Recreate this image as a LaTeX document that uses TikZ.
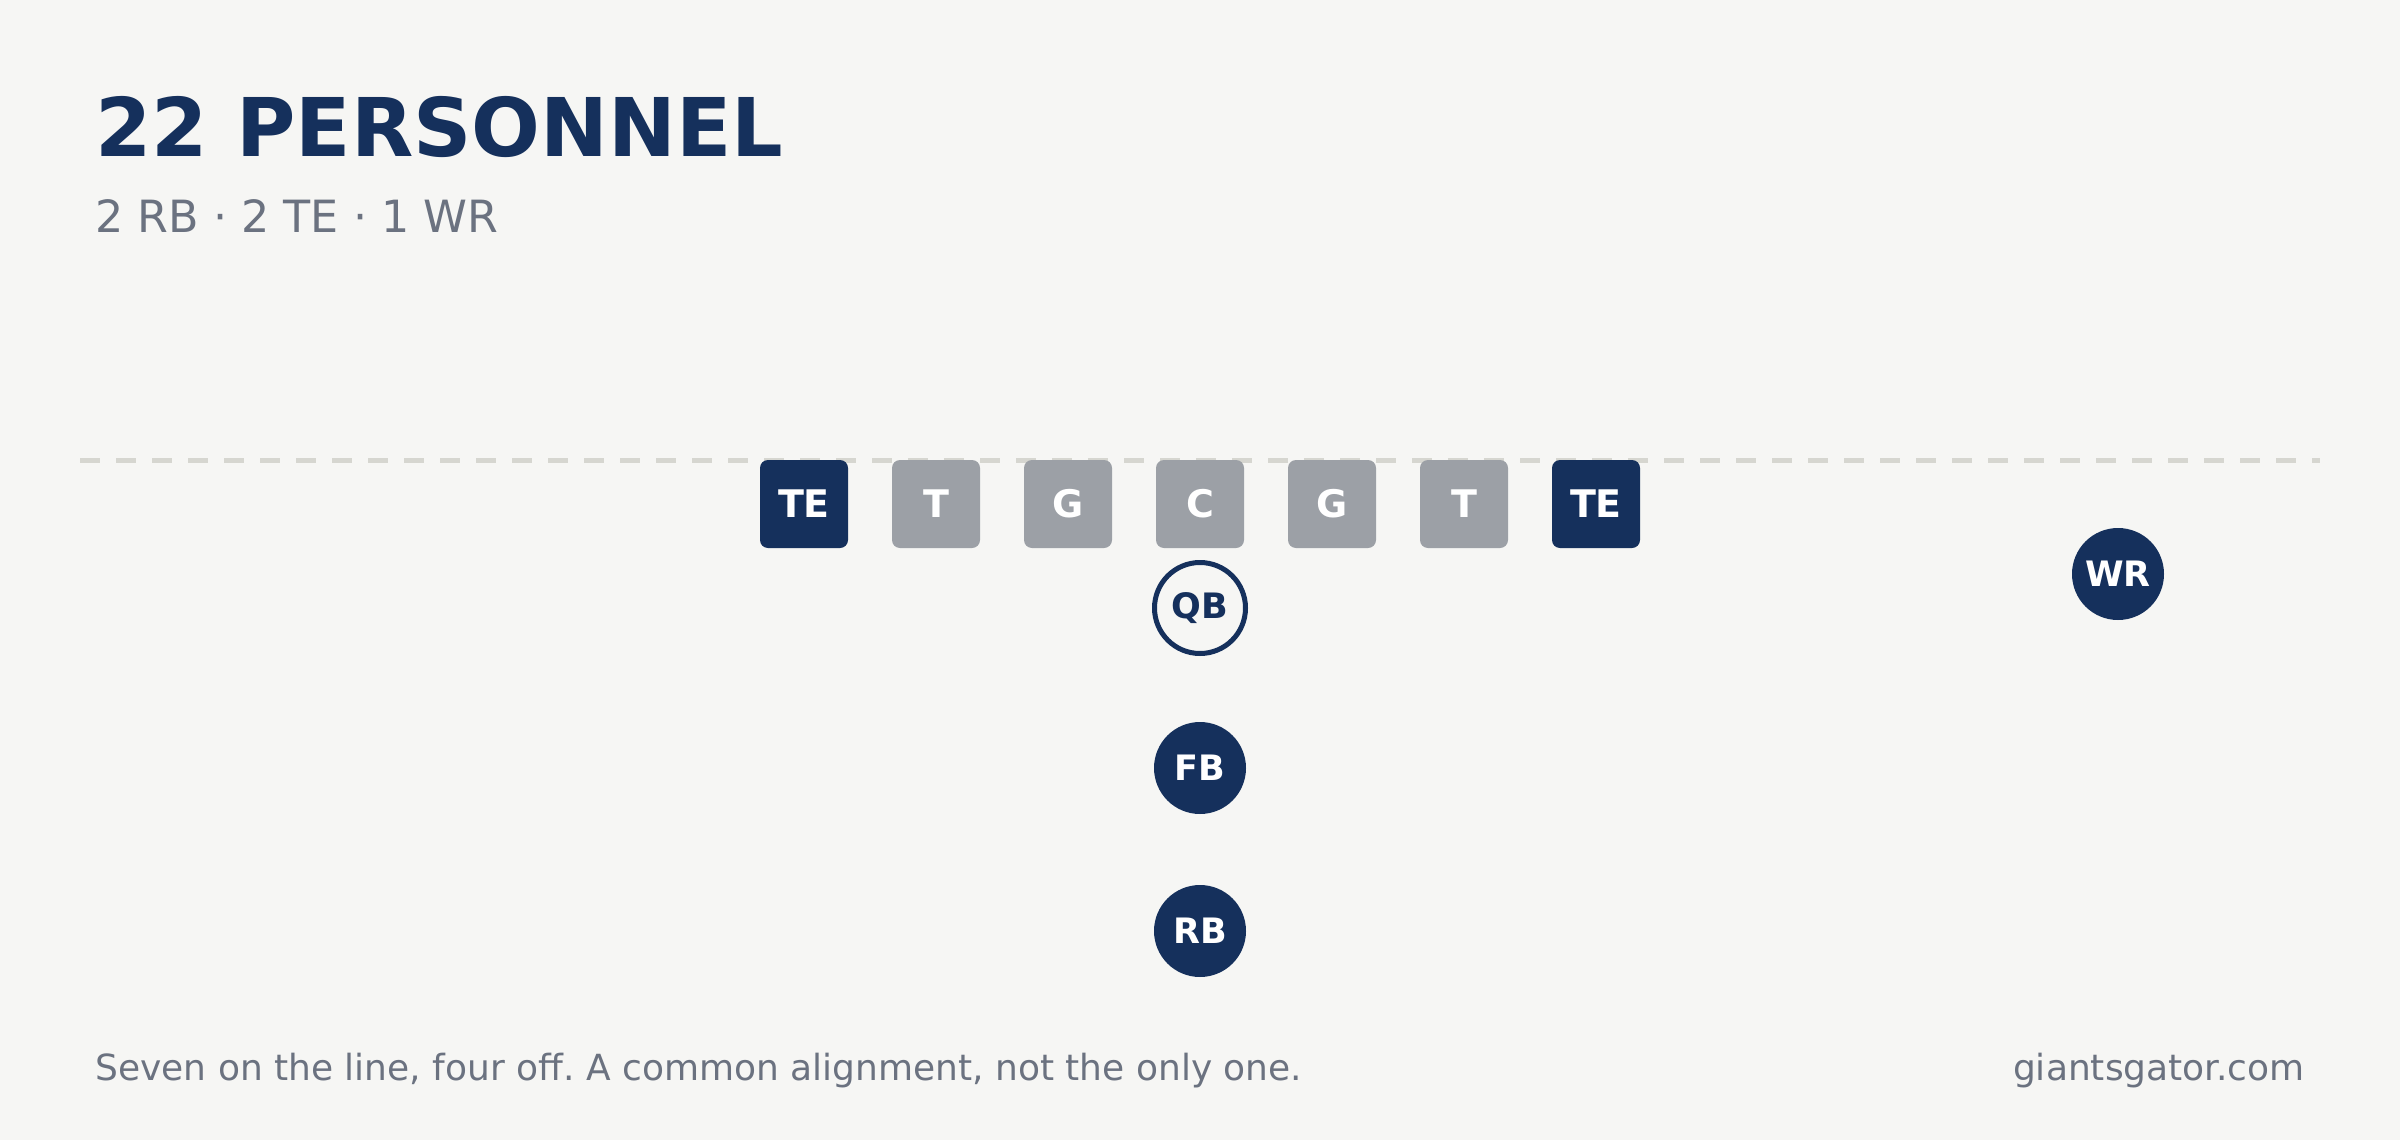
\documentclass[tikz,border=0pt]{standalone}
\usepackage{fontspec}
\setmainfont{DejaVu Sans}
\frenchspacing

\definecolor{navy}{RGB}{21,48,92}
\definecolor{linegray}{RGB}{156,160,166}
\definecolor{paper}{RGB}{246,246,244}
\definecolor{scrim}{RGB}{214,214,208}
\definecolor{muted}{RGB}{107,114,128}

\tikzset{
  player/.style={inner sep=0pt, text=white, font=\fontsize{17.5}{20}\selectfont\bfseries},
  blocker/.style={player, rectangle, rounded corners=4pt, minimum size=44pt, fill=linegray,
    font=\fontsize{19}{21}\selectfont\bfseries},
  endman/.style={blocker, fill=navy},
  back/.style={player, circle, minimum size=46pt, fill=navy},
  passer/.style={player, circle, minimum size=45.5pt, draw=navy, line width=2.5pt, fill=paper, text=navy}
}

\begin{document}
\begin{tikzpicture}[x=0.5pt, y=-0.5pt]
  \fill[paper] (0, 0) rectangle (2400, 1140);
  \useasboundingbox (0, 0) rectangle (2400, 1140);

  \node[anchor=base west, inner sep=0pt, text=navy, font=\fontsize{40.5}{44}\selectfont\bfseries]
    (title) at (95, 156) {22 PERSONNEL};
  \node[anchor=base west, inner sep=0pt, text=muted, font=\fontsize{22.2}{26}\selectfont]
    (subtitle) at (95, 232) {2 RB · 2 TE · 1 WR};

  % line of scrimmage
  \coordinate (los-l) at (80, 460);
  \coordinate (los-r) at (2320, 460);
  \draw[scrim, line width=2.5pt, dash pattern=on 10pt off 8pt] (los-l) -- (los-r);

  % the seven on the line
  \foreach \x/\pos/\name/\sty in {804/TE/tel/endman, 936/T/lt/blocker, 1068/G/lg/blocker,
      1200/C/c/blocker, 1332/G/rg/blocker, 1464/T/rt/blocker, 1596/TE/ter/endman}
    \node[\sty] (\name) at (\x, 504) {\pos};

  % four off
  \node[passer] (qb) at (1200, 608) {QB};
  \node[back]   (fb) at (1200, 768) {FB};
  \node[back]   (rb) at (1200, 931) {RB};
  \node[back]   (wr) at (2118, 574) {WR};

  \node[anchor=base west, inner sep=0pt, text=muted, font=\fontsize{18}{21}\selectfont]
    (note) at (95, 1080) {Seven on the line, four off. A common alignment, not the only one.};
  \node[anchor=base east, inner sep=0pt, text=muted, font=\fontsize{18}{21}\selectfont]
    (site) at (2305, 1080) {giantsgator.com};
\end{tikzpicture}
\end{document}
